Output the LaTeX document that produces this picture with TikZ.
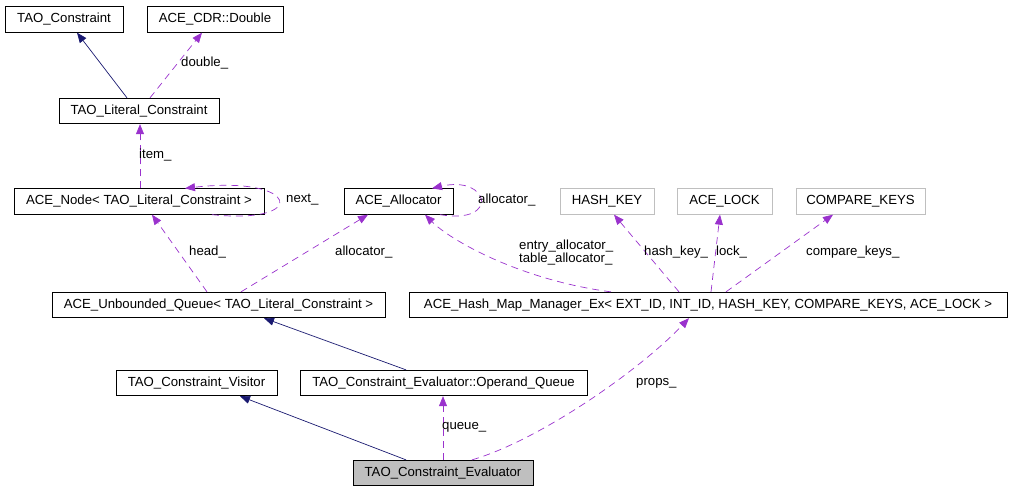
\documentclass[tikz,border=0pt]{standalone}
\usepackage{fontspec}
\setmainfont{Liberation Sans}
\usetikzlibrary{arrows.meta}

\definecolor{inherit}{RGB}{25,25,112}
\definecolor{uses}{RGB}{154,50,205}
\definecolor{greybox}{RGB}{191,191,191}

\begin{document}
\begin{tikzpicture}[
  x = 1pt, y = -1pt,
  every node/.style = {font = \fontsize{13.2}{13}\selectfont, inner sep = 0pt},
  cls/.style = {draw, minimum height = 25.5pt, line width = 0.8pt},
  tmpl/.style = {cls, draw = greybox},
  isa/.style = {draw = inherit, line width = 0.7pt, -{Triangle[length = 10pt, width = 8pt, fill = inherit]}},
  has/.style = {draw = uses, line width = 0.7pt, dash pattern = on 7pt off 5pt,
                -{Triangle[length = 10pt, width = 8pt, fill = uses]}},
  lbl/.style = {anchor = west},
  ]
  \useasboundingbox (0,0) rectangle (1012,491);

  % classes
  \node[cls, minimum width = 118pt] (tc)    at (64,19.5)   {TAO\_Constraint};
  \node[cls, minimum width = 136pt] (cdr)   at (215,19.5)  {ACE\_CDR::Double};
  \node[cls, minimum width = 160pt] (lit)   at (139,111)   {TAO\_Literal\_Constraint};
  \node[cls, minimum width = 250pt] (anode) at (139,201.5) {ACE\_Node< TAO\_Literal\_Constraint >};
  \node[cls, minimum width = 109pt] (alloc) at (398.5,201.5) {ACE\_Allocator};
  \node[tmpl, minimum width = 94pt]  (hkey)  at (607,201.5)   {HASH\_KEY};
  \node[tmpl, minimum width = 95pt]  (lock)  at (724.5,201.5) {ACE\_LOCK};
  \node[tmpl, minimum width = 129pt] (ckeys) at (860.5,201.5) {COMPARE\_KEYS};
  \node[cls, minimum width = 333pt] (queue) at (218.5,305) {ACE\_Unbounded\_Queue< TAO\_Literal\_Constraint >};
  \node[cls, minimum width = 598pt] (hmap)  at (708,305)
    {ACE\_Hash\_Map\_Manager\_Ex< EXT\_ID, INT\_ID, HASH\_KEY, COMPARE\_KEYS, ACE\_LOCK >};
  \node[cls, minimum width = 161pt] (visit) at (196.5,383) {TAO\_Constraint\_Visitor};
  \node[cls, minimum width = 287pt] (opq)   at (443.5,383) {TAO\_Constraint\_Evaluator::Operand\_Queue};
  \node[cls, minimum width = 180pt, fill = greybox] (eval) at (443,473) {TAO\_Constraint\_Evaluator};

  % inheritance
  \draw[isa] ([xshift = -12pt]lit.north) -- ([xshift = 13pt]tc.south);
  \draw[isa] ([xshift = -37.5pt]opq.north) -- ([xshift = 45.5pt]queue.south);
  \draw[isa] ([xshift = -37pt]eval.north) -- ([xshift = 43.5pt]visit.south);

  % members
  \draw[has] ([xshift = 11pt]lit.north) -- ([xshift = -13pt]cdr.south);
  \node[lbl] (ldouble) at (181,63) {double\_};
  \draw[has] ([xshift = 1pt]anode.north) -- ([xshift = 1pt]lit.south);
  \node[lbl] (litem) at (139,155) {item\_};
  \draw[has] ([xshift = 73pt]anode.south) .. controls (310,225) and (300,175) .. ([xshift = 46pt]anode.north);
  \node[lbl] (lnext) at (286,200) {next\_};
  \draw[has] ([xshift = 41.5pt]alloc.south) .. controls (500,225) and (490,175) .. ([xshift = 33.5pt]alloc.north);
  \node[lbl] (lalloc) at (478,200) {allocator\_};
  \draw[has] ([xshift = -11.5pt]queue.north) -- ([xshift = 13pt]anode.south);
  \node[lbl] (lhead) at (189,252) {head\_};
  \draw[has] ([xshift = 22.5pt]queue.north) -- ([xshift = -30.5pt]alloc.south);
  \node[lbl] (lqalloc) at (335,252) {allocator\_};
  \draw[has] ([xshift = -97pt]hmap.north) .. controls (520,280) and (450,240) .. ([xshift = 26.5pt]alloc.south);
  \node[lbl, align = left] (lentry) at (519,252.5) {entry\_allocator\_\\table\_allocator\_};
  \draw[has] ([xshift = -29pt]hmap.north) -- ([xshift = 7pt]hkey.south);
  \node[lbl] (lhkey) at (644,252) {hash\_key\_};
  \draw[has] ([xshift = 3pt]hmap.north) -- ([xshift = -4.5pt]lock.south);
  \node[lbl] (llock) at (716,252) {lock\_};
  \draw[has] ([xshift = 18pt]hmap.north) -- ([xshift = -27.5pt]ckeys.south);
  \node[lbl] (lckeys) at (806,252) {compare\_keys\_};
  \draw[has] (eval.north) -- ([xshift = -0.5pt]opq.south);
  \node[lbl] (lqueue) at (442,427) {queue\_};
  \draw[has] ([xshift = 29pt]eval.north) .. controls (540,440) and (640,370) .. ([xshift = -19pt]hmap.south);
  \node[lbl] (lprops) at (636,383) {props\_};
\end{tikzpicture}
\end{document}
